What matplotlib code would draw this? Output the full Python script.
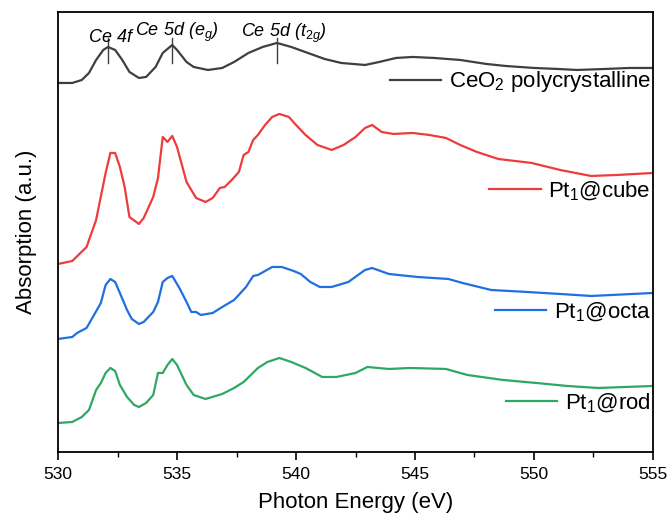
import matplotlib
matplotlib.use("Agg")
import matplotlib.pyplot as plt
from matplotlib.legend import Legend
from matplotlib.ticker import MultipleLocator, NullLocator

plt.rcParams["font.family"] = ["Liberation Sans", "DejaVu Sans"]
plt.rcParams["mathtext.fontset"] = "custom"
plt.rcParams["mathtext.rm"] = "Liberation Sans"
plt.rcParams["mathtext.it"] = "Liberation Sans:italic"
plt.rcParams["mathtext.default"] = "regular"

# O K-edge spectra (offset, arbitrary units)
e_ceo2 = [530.0, 530.6, 531.0, 531.3, 531.6, 531.9, 532.1, 532.4, 532.7, 533.0, 533.4,
          533.7, 534.1, 534.4, 534.8, 535.0, 535.4, 535.7, 536.3, 536.9, 537.4, 538.0,
          538.6, 539.2, 539.8, 540.5, 541.2, 541.9, 542.9, 543.5, 544.2, 544.9, 545.8,
          546.9, 548.0, 548.8, 550.0, 551.0, 551.8, 553.0, 554.0, 555.0]
a_ceo2 = [3.69, 3.69, 3.72, 3.79, 3.92, 4.02, 4.05, 4.02, 3.92, 3.80, 3.74,
          3.75, 3.85, 3.99, 4.07, 4.02, 3.90, 3.85, 3.82, 3.84, 3.90, 3.99,
          4.05, 4.09, 4.05, 3.99, 3.93, 3.89, 3.87, 3.90, 3.94, 3.95, 3.94,
          3.92, 3.88, 3.86, 3.84, 3.83, 3.82, 3.83, 3.84, 3.84]

e_cube = [530.0, 530.6, 531.2, 531.6, 532.0, 532.2, 532.4, 532.6, 532.8, 533.0, 533.4,
          533.6, 534.0, 534.2, 534.4, 534.6, 534.8, 535.0, 535.4, 535.8, 536.2, 536.5,
          536.8, 537.0, 537.3, 537.6, 537.8, 538.0, 538.2, 538.4, 538.7, 539.0, 539.3,
          539.7, 540.0, 540.4, 540.9, 541.5, 542.0, 542.5, 542.9, 543.2, 543.6, 544.1,
          544.9, 545.6, 546.3, 546.9, 547.6, 548.5, 549.9, 551.1, 552.4, 553.5, 555.0]
a_cube = [1.88, 1.91, 2.05, 2.32, 2.79, 2.99, 2.99, 2.85, 2.65, 2.35, 2.28,
          2.34, 2.55, 2.74, 3.15, 3.10, 3.16, 3.05, 2.70, 2.54, 2.50, 2.54,
          2.64, 2.65, 2.72, 2.80, 2.97, 3.00, 3.12, 3.17, 3.27, 3.35, 3.38,
          3.35, 3.27, 3.17, 3.07, 3.02, 3.07, 3.15, 3.24, 3.27, 3.20, 3.18,
          3.19, 3.17, 3.14, 3.07, 3.00, 2.93, 2.89, 2.82, 2.76, 2.77, 2.79]

e_octa = [530.0, 530.6, 530.8, 531.2, 531.8, 532.0, 532.2, 532.4, 532.6, 532.9, 533.1,
          533.4, 533.6, 534.0, 534.2, 534.4, 534.6, 534.8, 535.1, 535.4, 535.6, 535.8,
          536.0, 536.5, 536.9, 537.4, 537.9, 538.2, 538.4, 539.0, 539.4, 539.9, 540.2,
          540.6, 541.0, 541.5, 542.2, 542.9, 543.2, 543.9, 545.1, 546.4, 547.0, 548.2,
          549.7, 551.1, 552.4, 555.0]
a_octa = [1.13, 1.15, 1.19, 1.24, 1.49, 1.67, 1.73, 1.70, 1.59, 1.42, 1.33,
          1.28, 1.30, 1.40, 1.50, 1.70, 1.74, 1.76, 1.64, 1.50, 1.40, 1.40,
          1.37, 1.39, 1.45, 1.52, 1.65, 1.76, 1.77, 1.85, 1.85, 1.81, 1.78,
          1.70, 1.65, 1.65, 1.70, 1.82, 1.84, 1.78, 1.75, 1.73, 1.69, 1.62,
          1.60, 1.58, 1.56, 1.59]

e_rod = [530.0, 530.6, 531.0, 531.3, 531.6, 531.8, 532.0, 532.2, 532.4, 532.6, 532.9,
         533.2, 533.4, 533.7, 534.0, 534.2, 534.4, 534.6, 534.8, 535.0, 535.4, 535.7,
         536.2, 536.9, 537.4, 537.8, 538.4, 538.8, 539.3, 539.8, 540.4, 541.1, 541.7,
         542.5, 543.0, 543.9, 544.8, 546.3, 547.2, 548.7, 550.1, 551.4, 552.7, 555.0]
a_rod = [0.29, 0.30, 0.35, 0.42, 0.62, 0.69, 0.79, 0.84, 0.81, 0.67, 0.55,
         0.47, 0.45, 0.49, 0.57, 0.79, 0.79, 0.87, 0.93, 0.87, 0.67, 0.57,
         0.53, 0.58, 0.64, 0.70, 0.84, 0.90, 0.94, 0.90, 0.84, 0.75, 0.75,
         0.79, 0.85, 0.83, 0.84, 0.83, 0.77, 0.72, 0.69, 0.66, 0.64, 0.66]

peak_e = [532.1, 534.8, 539.2]
peak_labels = ["Ce 4f", r"Ce 5d (e$_\mathit{g}$)", r"Ce 5d (t$_\mathit{2g}$)"]
label_e = [532.2, 535.0, 539.5]
label_y = [4.10, 4.16, 4.15]

series = [
    (e_ceo2, a_ceo2, "#3f3f3f", "CeO$_2$ polycrystalline", 0.841),
    (e_cube, a_cube, "#EE3B3B", "Pt$_1$@cube", 0.593),
    (e_octa, a_octa, "#1F6FE0", "Pt$_1$@octa", 0.318),
    (e_rod, a_rod, "#2EA862", "Pt$_1$@rod", 0.111),
]

fig = plt.figure(figsize=(6.7, 5.2), dpi=100)
ax = fig.add_axes([0.0866, 0.1308, 0.8880, 0.8462])

for x, y, c, lab, ypos in series:
    ln, = ax.plot(x, y, color=c, lw=1.6)
    leg = Legend(ax, [ln], [lab], loc="center right", bbox_to_anchor=(1.0, ypos),
                 frameon=False, fontsize=16, handlelength=2.3, handletextpad=0.35,
                 borderaxespad=0.1, borderpad=0)
    ax.add_artist(leg)

# peak markers on the CeO2 reference spectrum
for pe, le, ly, txt in zip(peak_e, label_e, label_y, peak_labels):
    ax.plot([pe, pe], [3.89, 4.14], color="#3f3f3f", lw=1.0)
    ax.text(le, ly, txt, fontsize=13, style="italic", ha="center", va="baseline")

ax.set_xlim(530, 555)
ax.set_ylim(0, 4.4)
ax.xaxis.set_major_locator(MultipleLocator(5))
ax.xaxis.set_minor_locator(MultipleLocator(2.5))
ax.yaxis.set_major_locator(NullLocator())
ax.tick_params(axis="x", which="major", direction="out", length=6, width=1.2,
               labelsize=12.5, pad=5)
ax.tick_params(axis="x", which="minor", direction="out", length=3.5, width=1.0)
for s in ax.spines.values():
    s.set_linewidth(1.3)

ax.set_xlabel("Photon Energy (eV)", fontsize=16, labelpad=7)
ax.set_ylabel("Absorption (a.u.)", fontsize=16, labelpad=15)

fig.savefig("out.png", dpi=100)
